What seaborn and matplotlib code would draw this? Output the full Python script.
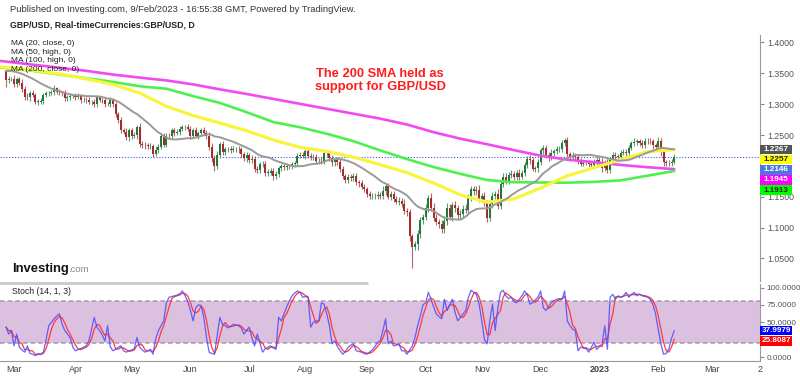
import numpy as np
import pandas as pd
import matplotlib
matplotlib.use("Agg")
import matplotlib.pyplot as plt
import matplotlib.transforms as mtransforms
from matplotlib.lines import Line2D
from matplotlib.patches import Rectangle
import seaborn as sns

# ---------------- data ----------------
start_date = "2022-02-24"
first_open = 1.3530
closes = [
    1.3390, 1.3410, 1.3415, 1.3325, 1.3400, 1.3350, 1.3250, 1.3120, 1.3110, 1.3180,
    1.3150, 1.3040, 1.3040, 1.3050, 1.3150, 1.3175, 1.3180, 1.3200, 1.3260, 1.3200,
    1.3190, 1.3185, 1.3095, 1.3110, 1.3140, 1.3140, 1.3115, 1.3130, 1.3070, 1.3075,
    1.3070, 1.3030, 1.3035, 1.3000, 1.3110, 1.3065, 1.3060, 1.3005, 1.3000, 1.3065,
    1.3000, 1.2835, 1.2740, 1.2580, 1.2555, 1.2460, 1.2575, 1.2490, 1.2495, 1.2625,
    1.2350, 1.2340, 1.2330, 1.2320, 1.2325, 1.2200, 1.2260, 1.2310, 1.2490, 1.2345,
    1.2490, 1.2485, 1.2575, 1.2535, 1.2545, 1.2605, 1.2625, 1.2630, 1.2600, 1.2485,
    1.2575, 1.2490, 1.2530, 1.2580, 1.2535, 1.2490, 1.2310, 1.2130, 1.2000, 1.2175,
    1.2350, 1.2220, 1.2265, 1.2275, 1.2260, 1.2270, 1.2270, 1.2265, 1.2185, 1.2125,
    1.2175, 1.2095, 1.2110, 1.1950, 1.1930, 1.2030, 1.2030, 1.1890, 1.1890, 1.1920,
    1.1830, 1.1870, 1.1960, 1.1990, 1.1975, 1.1995, 1.1995, 1.2025, 1.2040, 1.2165,
    1.2180, 1.2165, 1.2245, 1.2165, 1.2140, 1.2150, 1.2075, 1.2085, 1.2075, 1.2215,
    1.2205, 1.2130, 1.2055, 1.2095, 1.2060, 1.1950, 1.1830, 1.1765, 1.1820, 1.1800,
    1.1835, 1.1735, 1.1720, 1.1665, 1.1620, 1.1540, 1.1510, 1.1515, 1.1515, 1.1530,
    1.1505, 1.1590, 1.1680, 1.1500, 1.1545, 1.1470, 1.1420, 1.1435, 1.1385, 1.1270,
    1.1255, 1.0860, 1.0690, 1.0730, 1.0890, 1.1120, 1.1165, 1.1320, 1.1480, 1.1320,
    1.1160, 1.1090, 1.1060, 1.0970, 1.1100, 1.1320, 1.1175, 1.1360, 1.1310, 1.1200,
    1.1225, 1.1305, 1.1290, 1.1480, 1.1620, 1.1585, 1.1615, 1.1465, 1.1510, 1.1390,
    1.1160, 1.1375, 1.1510, 1.1545, 1.1355, 1.1705, 1.1825, 1.1760, 1.1855, 1.1865,
    1.1820, 1.1890, 1.1825, 1.1885, 1.2015, 1.2115, 1.2090, 1.1955, 1.1960, 1.2060,
    1.2250, 1.2285, 1.2175, 1.2140, 1.2210, 1.2235, 1.2265, 1.2280, 1.2370, 1.2415,
    1.2185, 1.2140, 1.2175, 1.2150, 1.2090, 1.2035, 1.2045, 1.2045, 1.2025, 1.2020,
    1.2060, 1.2095, 1.2060, 1.1970, 1.2055, 1.1935, 1.2090, 1.2180, 1.2155, 1.2150,
    1.2215, 1.2230, 1.2205, 1.2290, 1.2365, 1.2390, 1.2395, 1.2365, 1.2340, 1.2405,
    1.2400, 1.2395, 1.2330, 1.2305, 1.2400, 1.2220, 1.2055, 1.2040, 1.2045, 1.2070,
    1.2146,
]
upper_wick_pips = [
    10, 45, 30, 60, 35, 40, 55, 40, 60, 30,
    45, 35, 40, 55, 30, 45, 40, 30, 50, 25,
    40, 30, 45, 35, 40, 30, 35, 45, 30, 40,
    35, 40, 30, 50, 35, 40, 30, 45, 35, 50,
    40, 30, 45, 50, 40, 60, 45, 35, 55, 40,
    70, 45, 50, 40, 45, 35, 60, 50, 45, 40,
    50, 40, 45, 35, 50, 40, 45, 35, 50, 40,
    45, 60, 40, 35, 45, 50, 55, 60, 45, 70,
    40, 50, 45, 35, 40, 45, 35, 50, 40, 45,
    50, 40, 60, 45, 55, 40, 50, 45, 55, 40,
    45, 50, 40, 35, 45, 50, 40, 35, 45, 40,
    50, 45, 30, 40, 45, 50, 35, 40, 55, 40,
    45, 40, 50, 35, 45, 55, 40, 45, 50, 40,
    45, 50, 40, 55, 45, 40, 50, 45, 40, 60,
    45, 80, 50, 40, 55, 45, 40, 60, 50, 70,
    50, 40, 40, 60, 70, 50, 55, 60, 45, 80,
    70, 60, 55, 65, 90, 70, 60, 55, 65, 50,
    60, 55, 70, 65, 50, 60, 55, 70, 45, 60,
    50, 70, 60, 55, 75, 60, 55, 65, 50, 60,
    55, 45, 60, 50, 55, 45, 60, 50, 45, 55,
    45, 50, 60, 45, 55, 40, 50, 45, 55, 35,
    60, 45, 55, 40, 50, 35, 40, 45, 50, 40,
    45, 55, 50, 60, 45, 55, 40, 45, 50, 40,
    45, 35, 50, 40, 45, 55, 40, 45, 50, 40,
    45, 50, 40, 45, 60, 45, 55, 40, 50, 45,
    40,
]
lower_wick_pips = [
    120, 40, 35, 50, 40, 45, 50, 60, 45, 55,
    40, 45, 50, 35, 45, 40, 50, 35, 45, 40,
    35, 45, 40, 50, 35, 45, 40, 35, 50, 40,
    45, 35, 40, 45, 50, 35, 40, 45, 35, 40,
    50, 45, 40, 55, 45, 40, 50, 60, 45, 55,
    40, 45, 50, 55, 45, 60, 45, 50, 40, 45,
    40, 45, 50, 45, 35, 40, 45, 50, 40, 55,
    45, 40, 50, 45, 40, 55, 50, 60, 90, 45,
    50, 45, 40, 45, 50, 40, 45, 50, 55, 45,
    60, 50, 45, 55, 40, 50, 45, 55, 50, 45,
    60, 45, 50, 40, 45, 50, 45, 40, 50, 45,
    40, 45, 50, 45, 40, 50, 45, 40, 45, 50,
    40, 45, 50, 55, 45, 50, 45, 40, 50, 45,
    45, 50, 55, 40, 45, 50, 40, 55, 45, 50,
    45, 50, 60, 45, 50, 55, 45, 50, 60, 55,
    60, 70, 340, 60, 90, 60, 55, 50, 60, 45,
    60, 55, 70, 65, 60, 55, 60, 70, 50, 55,
    60, 65, 55, 60, 50, 60, 55, 50, 55, 45,
    65, 55, 60, 50, 60, 55, 50, 60, 55, 50,
    45, 55, 50, 45, 55, 50, 60, 45, 50, 55,
    45, 50, 55, 60, 45, 50, 40, 45, 50, 45,
    50, 55, 45, 50, 60, 45, 40, 35, 45, 40,
    45, 50, 55, 70, 60, 50, 45, 55, 50, 45,
    40, 45, 50, 45, 40, 45, 50, 40, 45, 50,
    40, 45, 50, 45, 40, 60, 55, 50, 45, 40,
    45,
]
# 19 daily closes before the first bar (needed for the 20-day MA)
prior_closes = [1.3410, 1.3445, 1.3510, 1.3590, 1.3605, 1.3530, 1.3530, 1.3530, 1.3545, 1.3560,
                1.3560, 1.3530, 1.3540, 1.3590, 1.3600, 1.3590, 1.3595, 1.3570, 1.3550]

ma_bar = [-2, 10, 20, 30, 40, 50, 60, 70, 80, 90, 100, 110, 120, 130, 140, 150, 160,
          170, 180, 190, 200, 210, 220, 230, 240, 250]
ma50_high = [1.3605, 1.3550, 1.3490, 1.3410, 1.3320, 1.3180, 1.2965, 1.2815, 1.2694, 1.2570,
             1.2420, 1.2300, 1.2235, 1.2140, 1.2020, 1.1890, 1.1720, 1.1530, 1.1410, 1.1465,
             1.1640, 1.1840, 1.1970, 1.2100, 1.2230, 1.2262]
ma100_high = [1.3594, 1.3540, 1.3480, 1.3420, 1.3360, 1.3290, 1.3250, 1.3130, 1.3020, 1.2870,
              1.2710, 1.2625, 1.2520, 1.2400, 1.2250, 1.2110, 1.1980, 1.1870, 1.1770, 1.1735,
              1.1730, 1.1727, 1.1740, 1.1765, 1.1840, 1.1918]
ma200_close = [1.3700, 1.3640, 1.3590, 1.3540, 1.3480, 1.3430, 1.3385, 1.3320, 1.3240, 1.3165,
               1.3085, 1.3005, 1.2925, 1.2845, 1.2765, 1.2670, 1.2545, 1.2440, 1.2350, 1.2255,
               1.2165, 1.2100, 1.2060, 1.2015, 1.1978, 1.1947]

stoch_k = [
    43, 33, 38, 16, 33, 14, 10, 7, 16, 5,
    4, 2, 5, 4, 7, 25, 45, 50, 55, 59,
    62, 47, 38, 33, 28, 14, 9, 11, 12, 14,
    16, 23, 40, 57, 43, 38, 32, 23, 45, 15,
    9, 11, 14, 16, 9, 7, 9, 10, 12, 28,
    14, 10, 7, 9, 11, 4, 26, 38, 45, 52,
    78, 86, 87, 88, 89, 91, 95, 88, 80, 67,
    52, 71, 75, 74, 57, 28, 7, 5, 4, 30,
    57, 47, 45, 42, 44, 47, 46, 45, 42, 33,
    38, 43, 28, 16, 33, 20, 7, 12, 14, 16,
    13, 11, 57, 52, 62, 72, 81, 88, 92, 95,
    93, 86, 87, 86, 43, 50, 52, 52, 78, 76,
    62, 45, 19, 23, 15, 9, 4, 8, 14, 17,
    19, 9, 8, 7, 5, 4, 7, 10, 15, 21,
    23, 38, 55, 19, 23, 16, 17, 19, 9, 9,
    4, 10, 16, 28, 45, 59, 75, 78, 93, 83,
    72, 62, 58, 55, 83, 67, 75, 83, 64, 52,
    57, 62, 67, 86, 96, 93, 90, 76, 52, 25,
    19, 52, 76, 38, 70, 93, 96, 88, 84, 86,
    80, 78, 83, 88, 95, 90, 76, 78, 82, 86,
    95, 71, 67, 72, 78, 81, 83, 84, 83, 95,
    52, 45, 40, 38, 9, 14, 14, 12, 7, 14,
    21, 11, 15, 19, 45, 11, 86, 90, 83, 88,
    86, 88, 93, 86, 90, 93, 88, 90, 88, 87,
    86, 83, 76, 62, 40, 19, 4, 5, 12, 27,
    38,
]

month_labels = ["Mar", "Apr", "May", "Jun", "Jul", "Aug", "Sep", "Oct", "Nov", "Dec",
                "2023", "Feb", "Mar", "2"]
price_ticks = [1.05, 1.10, 1.15, 1.20, 1.25, 1.30, 1.35, 1.40]
price_tick_hidden = [1.20]          # covered by the value tags in the original
stoch_ticks = [0, 25, 50, 75, 100]
stoch_tick_hidden = [25]
ma_legend = ["MA (20, close, 0)", "MA (50, high, 0)", "MA (100, high, 0)", "MA (200, close, 0)"]
last_labels = [1.2267, 1.2257, 1.2146, 1.1945, 1.1913]   # MA20, MA50, price, MA200, MA100
stoch_last = [37.9979, 25.8087]
last_price = 1.2146

# ---------------- style ----------------
sns.set_theme(style="white")
plt.rcParams["font.family"] = ["Liberation Sans", "DejaVu Sans"]

W, H = 800, 376
fig = plt.figure(figsize=(W / 100, H / 100), dpi=100)
fig.patch.set_facecolor("white")

def fy(py):
    return (H - py) / H

AXW = 760.0
ax = fig.add_axes([0, fy(281), AXW / W, (281 - 35) / H])
ax2 = fig.add_axes([0, fy(361), AXW / W, (361 - 284) / H])

n = len(closes)
xi = np.arange(n)
c = np.array(closes)
o = np.r_[first_open, c[:-1]]
hi = np.maximum(o, c) + np.array(upper_wick_pips) / 1e4
lo = np.minimum(o, c) - np.array(lower_wick_pips) / 1e4
up = c >= o

x_left = (0 - 6.0) / 2.673
x_right = (AXW - 6.0) / 2.673
for a in (ax, ax2):
    a.set_xlim(x_left, x_right)
    a.set_facecolor("white")

ppx = 617.0
ax.set_ylim(1.25 - (281 - 135) / ppx, 1.25 + (135 - 35) / ppx)

up_col, dn_col = "#22793a", "#a52c2c"
ax.vlines(xi[up], lo[up], hi[up], color="#5f9a70", lw=0.8, zorder=2)
ax.vlines(xi[~up], lo[~up], hi[~up], color="#b06a6a", lw=0.8, zorder=2)
body = np.maximum(np.abs(c - o), 0.0004)
ax.bar(xi[up], body[up], bottom=np.minimum(o, c)[up], width=0.75, color=up_col,
       linewidth=0, zorder=3)
ax.bar(xi[~up], body[~up], bottom=np.minimum(o, c)[~up], width=0.75, color=dn_col,
       linewidth=0, zorder=3)

# moving averages
all_c = pd.Series(prior_closes + closes)
ma20 = all_c.rolling(20).mean().iloc[len(prior_closes):].to_numpy()
df_ma20 = pd.DataFrame({"bar": xi, "v": ma20})
df_ma = pd.DataFrame({"bar": ma_bar, "ma50": ma50_high, "ma100": ma100_high, "ma200": ma200_close})
sns.lineplot(data=df_ma, x="bar", y="ma200", ax=ax, color="#f04af0", lw=1.9, zorder=4)
sns.lineplot(data=df_ma, x="bar", y="ma100", ax=ax, color="#4ef04e", lw=1.9, zorder=4)
sns.lineplot(data=df_ma, x="bar", y="ma50", ax=ax, color="#f7f53c", lw=2.3, zorder=4)
sns.lineplot(data=df_ma20, x="bar", y="v", ax=ax, color="#9a9a9a", lw=1.4, zorder=4)

ax.axhline(last_price, color="#3a5cf0", lw=0.8, ls=(0, (1, 1.6)), zorder=1)

ax.set_xlabel("")
ax.set_ylabel("")
ax.set_xticks([])
ax.yaxis.tick_right()
ax.set_yticks(price_ticks)
ax.set_yticklabels(["" if v in price_tick_hidden else f"{v:.4f}" for v in price_ticks])
ax.tick_params(axis="y", length=3, width=0.8, colors="#8a8a8a", labelcolor="#555555",
               labelsize=6.3, pad=2, direction="out")
for s in ("left", "top", "bottom"):
    ax.spines[s].set_visible(False)
ax.spines["right"].set_color("#9a9a9a")
ax.spines["right"].set_linewidth(0.8)


def value_boxes(a, values, colors, units_per_px):
    """Stacked value tags just right of the axis (like the platform's price scale)."""
    tr = mtransforms.blended_transform_factory(a.transAxes, a.transData)
    box_h = 9.6 * units_per_px
    box_w = 32.0 / AXW
    prev = None
    for v, (bg, fg, fmt) in zip(values, colors):
        yv = v if prev is None else min(v, prev - box_h - 0.6 * units_per_px)
        prev = yv
        a.add_patch(Rectangle((1.0, yv - box_h / 2), box_w, box_h, transform=tr,
                              facecolor=bg, edgecolor="none", clip_on=False, zorder=9))
        a.text(1.0 + box_w / 2, yv, fmt.format(v), transform=tr, ha="center", va="center",
               fontsize=5.9, color=fg, fontweight="bold", clip_on=False, zorder=10)


value_boxes(ax, last_labels,
            [("#555555", "white", "{:.4f}"), ("#ffff00", "#222222", "{:.4f}"),
             ("#4a78e0", "white", "{:.4f}"), ("#ff00ff", "white", "{:.4f}"),
             ("#00ff00", "#222222", "{:.4f}")], 1.0 / ppx)

# ---------------- stochastic pane ----------------
spx = 0.695
ax2.set_ylim((357 - 361) / spx, (357 - 284) / spx)
ax2.axhspan(20, 80, color="#dcc0e0", lw=0, zorder=0)
for lvl in (20, 80):
    ax2.axhline(lvl, color="#a898a8", lw=1.1, ls=(0, (3, 2)), zorder=1)
df_st = pd.DataFrame({"bar": xi, "k": stoch_k})
df_st["d"] = df_st["k"].rolling(3, min_periods=1).mean()
sns.lineplot(data=df_st, x="bar", y="d", ax=ax2, color="#ff3a3a", lw=0.9, zorder=3)
sns.lineplot(data=df_st, x="bar", y="k", ax=ax2, color="#4a4aff", lw=0.9, zorder=4, alpha=0.85)
ax2.set_xlabel("")
ax2.set_ylabel("")
ax2.yaxis.tick_right()
ax2.set_yticks(stoch_ticks)
ax2.set_yticklabels(["" if v in stoch_tick_hidden else f"{v:.4f}" for v in stoch_ticks])
ax2.tick_params(axis="y", length=3, width=0.8, colors="#8a8a8a", labelcolor="#555555",
                labelsize=5.9, pad=1.5, direction="out")

ext = pd.bdate_range(start_date, periods=300)
pos = []
prev_m = ext[0].month
for k, d in enumerate(ext):
    if d.month != prev_m:
        pos.append(k)
        prev_m = d.month
tick_pos = pos[:len(month_labels) - 1] + [x_right]
ax2.set_xticks(tick_pos)
ax2.set_xticklabels(month_labels)
for t in ax2.get_xticklabels():
    if t.get_text() == "2023":
        t.set_fontweight("bold")
ax2.tick_params(axis="x", length=2.5, width=0.8, colors="#8a8a8a", labelcolor="#444444",
                labelsize=6.5, pad=0.5, direction="out")
for s in ("left", "top"):
    ax2.spines[s].set_visible(False)
for s in ("right", "bottom"):
    ax2.spines[s].set_color("#9a9a9a")
    ax2.spines[s].set_linewidth(0.8)

value_boxes(ax2, stoch_last,
            [("#0000ff", "white", "{:.4f}"), ("#ff0000", "white", "{:.4f}")], 1.0 / spx)

# ---------------- texts ----------------
fig.text(10 / W, fy(10), "Published on Investing.com, 9/Feb/2023 - 16:55:38 GMT, Powered by TradingView.",
         fontsize=6.75, color="#333333", va="center", ha="left")
fig.text(10 / W, fy(25), "GBP/USD, Real-timeCurrencies:GBP/USD, D",
         fontsize=6.3, color="#222222", va="center", ha="left", fontweight="bold")
for k, s in enumerate(ma_legend):
    fig.text(11 / W, fy(43.5 + 8.6 * k), s, fontsize=6.0, color="#222222", va="center",
             ha="left", zorder=20)
fig.text(380 / W, fy(80.5), "The 200 SMA held as\nsupport for GBP/USD", fontsize=9.3,
         color="#ff1c1c", fontweight="bold", ha="center", va="center", linespacing=1.05)
fig.text(12.5 / W, fy(272), "Investing", fontsize=9.4, fontweight="bold", color="#111111",
         va="baseline", ha="left")
fig.text(68.5 / W, fy(272), ".com", fontsize=6.8, color="#8a8a8a", va="baseline", ha="left")
fig.text(12 / W, fy(291), "Stoch (14, 1, 3)", fontsize=6.2, color="#222222", va="center", ha="left")
fig.add_artist(Line2D([0, 367 / W], [fy(282.5), fy(282.5)], color="#c9c9c9", lw=2.0))

fig.savefig("out.png", dpi=100, facecolor="white")
